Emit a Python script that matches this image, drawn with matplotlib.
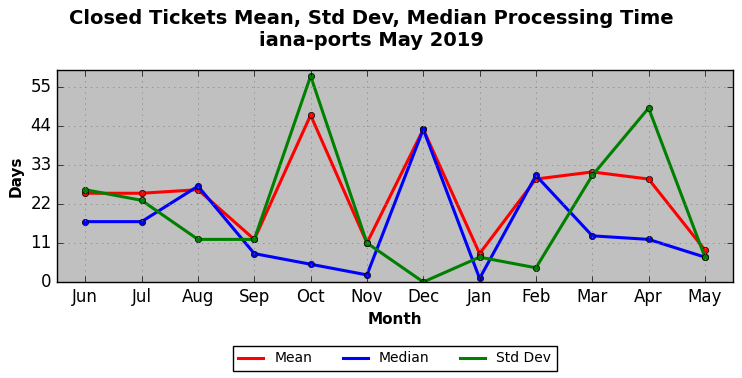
import numpy as np
import matplotlib
matplotlib.use("Agg")
import matplotlib.pyplot as plt

months = ["Jun", "Jul", "Aug", "Sep", "Oct", "Nov", "Dec", "Jan", "Feb", "Mar", "Apr", "May"]
mean = [25, 25, 26, 12, 47, 11, 43, 8, 29, 31, 29, 9]
median = [17, 17, 27, 8, 5, 2, 43, 1, 30, 13, 12, 7]
std_dev = [26, 23, 12, 12, 58, 11, 0, 7, 4, 30, 49, 7]

plt.style.use("classic")
fig, ax = plt.subplots(figsize=(7.42, 3.78), dpi=100)
fig.patch.set_facecolor("white")
ax.set_facecolor("#c0c0c0")

x = np.arange(len(months))
ax.plot(x, mean, "r-", marker="o", markersize=4.5, linewidth=2.2, label="Mean")
ax.plot(x, median, "b-", marker="o", markersize=4.5, linewidth=2.2, label="Median")
ax.plot(x, std_dev, "g-", marker="o", markersize=4.5, linewidth=2.2, label="Std Dev")

ax.set_xticks(x)
ax.set_xticklabels(months)
ax.set_xlim(-0.5, len(months) - 0.5)
top = max(max(mean), max(median), max(std_dev)) * 1.03
ax.set_ylim(0, top)
ax.set_yticks(np.arange(0, 56, 11))
ax.tick_params(labelsize=12)
ax.grid(True, color="gray", linestyle=":")

ax.set_xlabel("Month", fontsize=11, fontweight="bold")
ax.set_ylabel("Days", fontsize=11, fontweight="bold")
fig.suptitle("Closed Tickets Mean, Std Dev, Median Processing Time\niana-ports May 2019",
             fontsize=14, fontweight="bold", y=0.975)

fig.legend(loc="lower center", ncol=3, fontsize=10, bbox_to_anchor=(0.532, 0.0),
           numpoints=1, handlelength=1.8, columnspacing=2.2)
for line in fig.legends[0].get_lines():
    line.set_marker("")

fig.subplots_adjust(left=0.077, right=0.988, top=0.815, bottom=0.254)
fig.savefig("out.png", dpi=100)
